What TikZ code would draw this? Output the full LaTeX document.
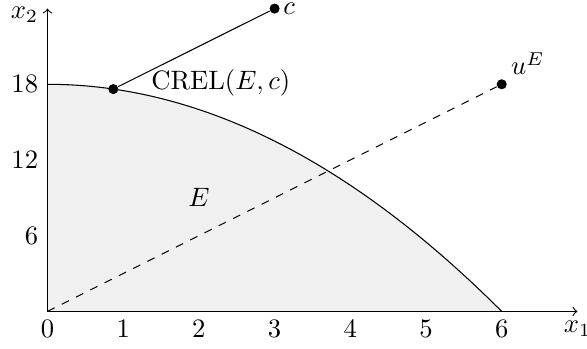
\documentclass[tikz,border=0pt]{standalone}
\usetikzlibrary{positioning}
\begin{document}
\begin{tikzpicture}[x=1cm, y=0.16667cm,
    dot/.style={circle, fill, inner sep=0pt, minimum size=3.8pt}]
    \useasboundingbox (-0.627,-2.95) rectangle (7.127,24.68);
    \fill[gray!12] (0,0) -- (0,18) .. controls (2,18) and (4,12) .. (6,0) -- cycle;
    \draw (0,18) .. controls (2,18) and (4,12) .. (6,0);
    \coordinate (o) at (0,0);
    \draw[->] (o) -- (7,0);
    \draw[->] (o) -- (0,24);
    \node[left] (xtwo) at (0,23.5) {$x_2$};
    \node[below] (xone) at (7,0) {$x_1$};
    \node[below] (t0) at (0,0) {$0$};
    \node[below] (t1) at (1,0) {$1$};
    \node[below] (t2) at (2,0) {$2$};
    \node[below] (t3) at (3,0) {$3$};
    \node[below] (t4) at (4,0) {$4$};
    \node[below] (t5) at (5,0) {$5$};
    \node[below] (t6) at (6,0) {$6$};
    \node[left] (s6) at (0,6) {$6$};
    \node[left] (s12) at (0,12) {$12$};
    \node[left] (s18) at (0,18) {$18$};
    \node[dot] (uE) at (6,18) {};
    \node[above right] (uElabel) at (uE) {$u^E$};
    \draw[dashed] (o) -- (uE);
    \node[dot] (crel) at (0.87,17.62) {};
    \node[dot] (c) at (3,24) {};
    \node[right=1pt of c, inner xsep=0pt, inner ysep=0pt] (clabel) {$c$};
    \draw (crel) -- (c);
    \node (crellabel) at (2.29,18.1) {CREL$(E,c)$};
    \node (E) at (2,9) {$E$};
\end{tikzpicture}
\end{document}
